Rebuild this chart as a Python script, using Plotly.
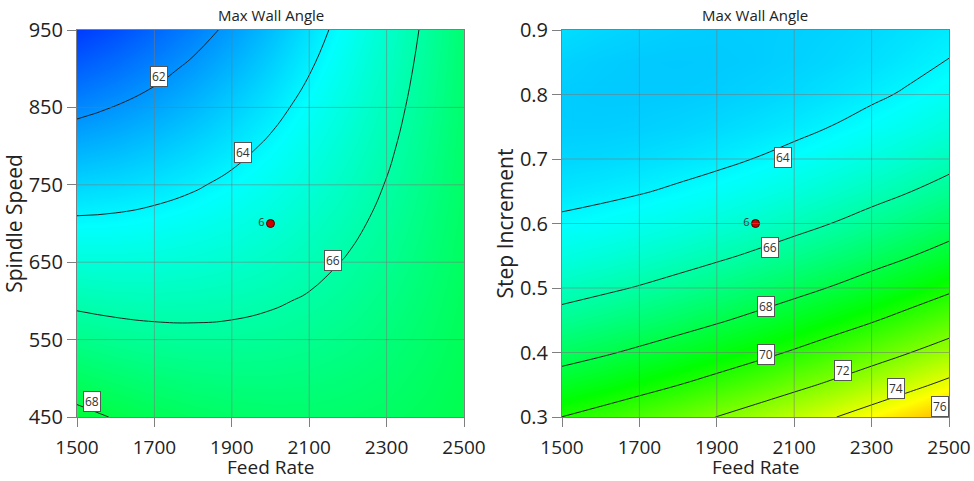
import plotly.graph_objects as go

# ---------------- data ----------------
feed_rate = [1500, 1600, 1700, 1800, 1900, 2000, 2100, 2200, 2300, 2400, 2500]
spindle_speed = [450, 500, 550, 600, 650, 700, 750, 800, 850, 900, 950]
step_increment = [0.30, 0.35, 0.40, 0.45, 0.50, 0.55, 0.60, 0.65, 0.70, 0.75, 0.80, 0.85, 0.90]

# Max Wall Angle vs Feed Rate (columns) and Spindle Speed (rows)
wall_angle_speed = [
    [68.27, 67.94, 67.68, 67.47, 67.33, 67.26, 67.24, 67.29, 67.40, 67.57, 67.81],
    [67.43, 67.18, 66.99, 66.86, 66.80, 66.79, 66.85, 66.98, 67.16, 67.41, 67.71],
    [66.61, 66.43, 66.31, 66.26, 66.27, 66.34, 66.47, 66.67, 66.93, 67.25, 67.63],
    [65.79, 65.68, 65.64, 65.66, 65.74, 65.89, 66.09, 66.36, 66.70, 67.09, 67.55],
    [64.97, 64.94, 64.97, 65.07, 65.22, 65.44, 65.72, 66.07, 66.47, 66.94, 67.47],
    [64.16, 64.20, 64.31, 64.48, 64.71, 65.00, 65.36, 65.77, 66.25, 66.80, 67.40],
    [63.36, 63.47, 63.65, 63.89, 64.20, 64.57, 64.99, 65.49, 66.04, 66.66, 67.34],
    [62.56, 62.75, 63.00, 63.32, 63.69, 64.14, 64.64, 65.20, 65.83, 66.52, 67.28],
    [61.76, 62.03, 62.35, 62.74, 63.20, 63.71, 64.29, 64.93, 65.63, 66.39, 67.22],
    [60.97, 61.31, 61.71, 62.18, 62.70, 63.29, 63.94, 64.66, 65.43, 66.27, 67.17],
    [60.19, 60.60, 61.08, 61.61, 62.21, 62.88, 63.60, 64.39, 65.24, 66.15, 67.13],
]

# Max Wall Angle vs Feed Rate (columns) and Step Increment (rows)
wall_angle_step = [
    [70.01, 70.46, 70.94, 71.46, 72.02, 72.62, 73.26, 73.93, 74.65, 75.40, 76.19],
    [68.68, 69.07, 69.51, 69.98, 70.49, 71.04, 71.63, 72.25, 72.92, 73.62, 74.36],
    [67.49, 67.83, 68.22, 68.64, 69.10, 69.60, 70.14, 70.72, 71.33, 71.99, 72.68],
    [66.44, 66.74, 67.07, 67.45, 67.86, 68.31, 68.80, 69.33, 69.89, 70.50, 71.14],
    [65.54, 65.79, 66.07, 66.40, 66.76, 67.16, 67.60, 68.08, 68.60, 69.15, 69.75],
    [64.78, 64.98, 65.22, 65.49, 65.81, 66.16, 66.55, 66.98, 67.45, 67.95, 68.50],
    [64.17, 64.32, 64.51, 64.73, 65.00, 65.30, 65.64, 66.02, 66.44, 66.90, 67.39],
    [63.70, 63.80, 63.94, 64.12, 64.33, 64.59, 64.88, 65.21, 65.58, 65.98, 66.43],
    [63.38, 63.43, 63.52, 63.65, 63.81, 64.02, 64.26, 64.54, 64.86, 65.22, 65.61],
    [63.20, 63.20, 63.24, 63.32, 63.44, 63.59, 63.78, 64.02, 64.29, 64.59, 64.94],
    [63.17, 63.12, 63.11, 63.14, 63.20, 63.31, 63.45, 63.64, 63.86, 64.11, 64.41],
    [63.28, 63.18, 63.12, 63.10, 63.12, 63.17, 63.27, 63.40, 63.57, 63.78, 64.03],
    [63.53, 63.38, 63.28, 63.21, 63.17, 63.18, 63.23, 63.31, 63.43, 63.59, 63.79],
]

levels_left = [62, 64, 66, 68]
levels_right = [64, 66, 68, 70, 72, 74, 76]

# design (center) point and replicate count
center_feed = [2000]
center_speed = [700]
center_step = [0.6]
center_count = ["6"]

# tick labels
feed_ticks = [1500, 1700, 1900, 2100, 2300, 2500]
speed_ticks = [450, 550, 650, 750, 850, 950]
step_ticks = [0.3, 0.4, 0.5, 0.6, 0.7, 0.8, 0.9]
step_ticktext = ["0.3", "0.4", "0.5", "0.6", "0.7", "0.8", "0.9"]

# contour label placement (feed, y, level)
label_pos_left = [(1711, 890, 62), (1928, 792, 64), (2162, 652, 66), (1538, 470, 68)]
label_pos_right = [(2072, 0.702, 64), (2037, 0.563, 66), (2027, 0.471, 68),
                   (2027, 0.397, 70), (2226, 0.3725, 72), (2362, 0.3445, 74),
                   (2477, 0.3166, 76)]

# ---------------- style ----------------
FONT = "Open Sans"
TXT = "#222222"
colorscale = [[0.0, "#0000ff"], [0.25, "#00ffff"], [0.5, "#00ff00"],
              [0.75, "#ffff00"], [1.0, "#ff0000"]]
ZMIN, ZMAX = 59, 79.8

fig = go.Figure()

fig.add_trace(go.Contour(
    x=feed_rate, y=spindle_speed, z=wall_angle_speed,
    colorscale=colorscale, zmin=ZMIN, zmax=ZMAX, showscale=False,
    contours=dict(coloring="heatmap", start=min(levels_left), end=max(levels_left),
                  size=2, showlabels=False),
    line=dict(color="#222222", width=1, smoothing=1.3),
    hoverinfo="skip", xaxis="x", yaxis="y"))

fig.add_trace(go.Contour(
    x=feed_rate, y=step_increment, z=wall_angle_step,
    colorscale=colorscale, zmin=ZMIN, zmax=ZMAX, showscale=False,
    contours=dict(coloring="heatmap", start=min(levels_right), end=max(levels_right),
                  size=2, showlabels=False),
    line=dict(color="#222222", width=1, smoothing=1.3),
    hoverinfo="skip", xaxis="x2", yaxis="y2"))

for xs, ys, xa, ya in [(center_feed, center_speed, "x", "y"),
                       (center_feed, center_step, "x2", "y2")]:
    fig.add_trace(go.Scatter(
        x=xs, y=ys, mode="markers+text", text=center_count,
        textposition="middle left",
        textfont=dict(family=FONT, size=11, color="#333333"),
        marker=dict(color="#cc0000", size=8, line=dict(color="#400000", width=1)),
        xaxis=xa, yaxis=ya, showlegend=False, hoverinfo="skip"))

W, H = 974, 481
L, R, T, B = 77, 25, 30, 64
pw = W - L - R
ph = H - T - B
dom_left = [0, (464 - L) / pw]
dom_right = [(562 - L) / pw, 1]

axis_common = dict(
    showgrid=False, zeroline=False, showline=True, mirror=True, automargin=False,
    linecolor="#7f7f7f", linewidth=1, ticks="outside", ticklen=9,
    tickcolor="#7f7f7f", tickfont=dict(family=FONT, size=20, color=TXT),
)
ytitle_font = dict(family=FONT, size=21, color=TXT)
xtick_font = dict(family=FONT, size=19, color=TXT)

fig.update_layout(
    width=W, height=H, margin=dict(l=L, r=R, t=T, b=B, autoexpand=False),
    paper_bgcolor="white", plot_bgcolor="white", showlegend=False,
    xaxis=dict(domain=dom_left, range=[1500, 2500], tickvals=feed_ticks, ticklabelstandoff=4,
               anchor="y", **{**axis_common, "tickfont": xtick_font}),
    yaxis=dict(domain=[0, 1], range=[450, 950], tickvals=speed_ticks,
               title=dict(text="Spindle Speed", font=ytitle_font, standoff=0),
               anchor="x", **axis_common),
    xaxis2=dict(domain=dom_right, range=[1500, 2500], tickvals=feed_ticks, ticklabelstandoff=4,
                anchor="y2", **{**axis_common, "tickfont": xtick_font}),
    yaxis2=dict(domain=[0, 1], range=[0.3, 0.9], tickvals=step_ticks, ticktext=step_ticktext,
                title=dict(text="Step Increment", font=ytitle_font, standoff=0),
                anchor="x2", **axis_common),
)

# grid lines drawn above the colour map
shapes = []
for xa, ya, yt in [("x", "y", speed_ticks), ("x2", "y2", step_ticks)]:
    for v in feed_ticks[1:-1]:
        shapes.append(dict(type="line", xref=xa, yref=ya + " domain", x0=v, x1=v, y0=0, y1=1,
                           line=dict(color="rgba(120,120,120,0.55)", width=1), layer="above"))
    for v in yt[1:-1]:
        shapes.append(dict(type="line", xref=xa + " domain", yref=ya, x0=0, x1=1, y0=v, y1=v,
                           line=dict(color="rgba(120,120,120,0.55)", width=1), layer="above"))
fig.update_layout(shapes=shapes)

annotations = []
for dom in (dom_left, dom_right):
    cx = (dom[0] + dom[1]) / 2
    annotations.append(dict(text="Max Wall Angle", x=cx, y=1, xref="paper", yref="paper",
                            xanchor="center", yanchor="bottom", yshift=3, showarrow=False,
                            font=dict(family=FONT, size=15, color=TXT)))
    annotations.append(dict(text="Feed Rate", x=cx, y=-(467 - (T + ph)) / ph, xref="paper", yref="paper",
                            xanchor="center", yanchor="middle", showarrow=False,
                            borderpad=0, borderwidth=0,
                            font=dict(family=FONT, size=19, color=TXT)))
for xa, ya, pos in [("x", "y", label_pos_left), ("x2", "y2", label_pos_right)]:
    for fx, fy, lv in pos:
        annotations.append(dict(text=str(lv), x=fx, y=fy, xref=xa, yref=ya, showarrow=False,
                                bgcolor="white", bordercolor="#555555", borderwidth=1, borderpad=1,
                                font=dict(family=FONT, size=12, color="#333333")))
fig.update_layout(annotations=annotations)

fig.write_html("out.html", config={"displayModeBar": False},
               post_script="document.body.style.margin='0px';")
